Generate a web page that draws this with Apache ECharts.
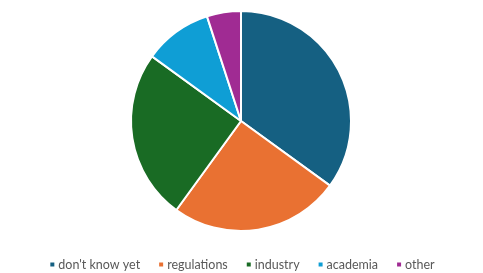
<!DOCTYPE html>
<html><head><meta charset="utf-8">
<script src="https://cdn.jsdelivr.net/npm/echarts@6/dist/echarts.min.js"></script>
<style>html,body{margin:0;padding:0;background:#fff}#c{width:483px;height:273px}</style>
</head><body><div id="c"></div>
<script>
const categories = ["don't know yet", "regulations", "industry", "academia", "other"];
const values = [35, 25, 25, 10, 5];
const colors = ["#156082", "#E97132", "#196B24", "#0F9ED5", "#A02B93"];
const chart = echarts.init(document.getElementById('c'), null, {renderer: 'canvas'});
chart.setOption({
  animation: false,
  color: colors,
  legend: {
    top: 253,
    left: 'center',
    icon: 'rect',
    itemWidth: 6,
    itemHeight: 6,
    itemGap: 17,
    textStyle: {color: '#595959', fontSize: 12.5, fontFamily: 'Lato', padding: [0, 0, 0, -2]},
    data: categories
  },
  series: [{
    type: 'pie',
    center: [241, 121],
    radius: 110,
    startAngle: 90,
    clockwise: true,
    label: {show: false},
    labelLine: {show: false},
    itemStyle: {borderColor: '#fff', borderWidth: 2},
    emphasis: {disabled: true},
    data: categories.map((n, i) => ({name: n, value: values[i]}))
  }]
});
</script></body></html>
